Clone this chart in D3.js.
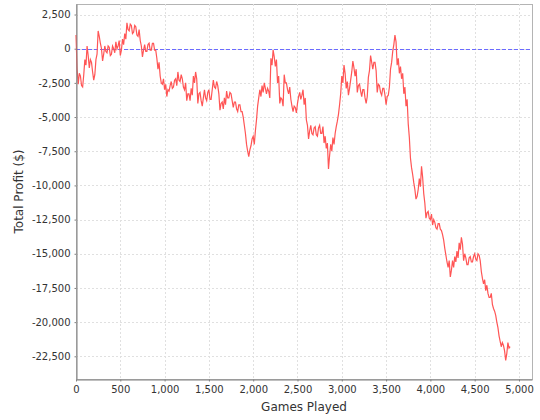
<!DOCTYPE html>
<html>
<head>
<meta charset="utf-8">
<script src="https://cdn.jsdelivr.net/npm/d3@7/dist/d3.min.js"></script>
<style>
  html, body { margin: 0; padding: 0; background: #fff; }
  svg { display: block; font-family: "DejaVu Sans", sans-serif; }
</style>
</head>
<body>
<svg id="chart" width="540" height="420"></svg>
<script>
// ---- data ----
const gameStep = 12.5; // games between recorded samples
const profit = [
  1000, -1500, -2600, -1800, -2000, -2700, -2800, -1900, -800, -1200,
  200, -500, -1400, -800, -1000, -1700, -2300, -1900, -800, -400,
  1300, 900, 400, 0, -900, -400, 200, -200, -300, 200,
  100, -500, -400, 200, 0, -300, 500, 0, 200, 600,
  -500, -100, 700, 300, 1100, 700, 1900, 1400, 1300, 1800,
  1700, 1100, 1200, 1700, 1600, 1000, 900, 1400, 600, 200,
  -600, -100, 300, -200, -200, 300, 400, -100, -100, 400,
  400, -100, -100, -700, -1500, -1000, -2000, -2500, -2600, -2200,
  -3000, -2600, -3500, -3000, -3100, -2700, -2400, -2900, -2800, -2300,
  -2200, -2700, -1700, -2300, -2400, -1900, -2200, -2800, -3000, -2500,
  -3800, -3300, -3300, -3800, -2900, -3400, -2000, -2500, -1700, -2200,
  -4000, -3300, -3200, -3800, -4200, -3600, -3000, -3600, -3800, -3200,
  -3000, -3700, -3700, -3000, -2300, -2800, -2900, -2400, -2700, -3300,
  -4500, -4000, -3900, -4400, -3600, -4100, -3100, -3600, -3600, -3200,
  -3300, -3800, -4300, -3900, -3900, -4400, -4600, -4100, -4100, -4600,
  -4600, -5000, -5600, -6200, -7000, -7500, -7900, -7400, -7100, -6600,
  -6400, -7000, -6000, -5200, -4200, -3600, -3000, -3500, -2700, -3200,
  -2500, -2900, -3300, -2900, -3100, -3600, -700, -1200, -100, -600,
  -1300, -800, -2500, -2000, -4000, -3600, -3700, -4200, -1900, -2500,
  -2500, -3000, -3300, -2800, -3700, -4200, -4600, -4200, -4300, -4700,
  -4000, -3500, -3200, -3700, -3400, -3000, -4100, -3600, -5200, -5600,
  -6600, -6000, -5600, -6200, -6300, -5800, -5700, -6300, -6400, -5800,
  -5600, -6200, -6200, -5700, -6900, -6400, -7300, -6900, -8800, -7800,
  -7000, -7500, -6500, -7000, -6200, -5700, -5300, -4800, -4100, -3300,
  -2000, -2500, -1200, -1800, -2900, -2400, -3400, -2900, -2300, -1700,
  -900, -1400, -2000, -1500, -3200, -2700, -2600, -3100, -3500, -3000,
  -3000, -3600, -4000, -3500, -2100, -1600, -500, -1000, -1500, -1000,
  -1000, -1600, -3200, -2600, -2700, -3200, -3400, -2900, -2900, -3400,
  -4100, -3500, -3400, -2800, -1500, -1000, -200, 300, 1000, 500,
  -1200, -700, -1800, -1300, -2200, -1800, -3300, -2800, -4200, -3700,
  -5500, -6500, -8000, -8700, -9200, -9800, -10300, -11000, -10800, -10300,
  -9500, -10100, -8600, -9400, -10600, -11300, -12400, -12000, -11900, -12400,
  -12500, -12100, -12900, -12500, -12700, -13100, -13200, -12800, -12800, -13200,
  -13300, -13600, -14000, -14600, -15100, -15600, -16000, -15500, -16700, -16200,
  -15500, -16000, -15200, -15600, -14800, -15300, -14200, -14700, -13800, -14300,
  -15500, -15000, -15300, -15800, -15800, -15300, -15200, -15600, -15600, -15200,
  -15000, -15400, -15500, -15000, -15100, -15500, -16300, -16800, -17200, -16900,
  -17700, -17300, -17900, -18200, -18200, -17900, -18700, -19000, -19200, -19500,
  -20000, -20400, -21000, -21400, -21800, -21500, -21700, -22100, -22800, -22300,
  -21500, -21900, -21800
];
const games = profit.map((_, i) => i * gameStep);
const xTicks = [0, 500, 1000, 1500, 2000, 2500, 3000, 3500, 4000, 4500, 5000];
const yTicks = [2500, 0, -2500, -5000, -7500, -10000, -12500, -15000, -17500, -20000, -22500];
const xTitle = "Games Played";
const yTitle = "Total Profit ($)";

// ---- layout ----
const plot = { left: 76, right: 532, top: 4, bottom: 379 };
const svg = d3.select("#chart");

const x = d3.scaleLinear().domain([0, 5147]).range([plot.left, plot.right]);
const y = d3.scaleLinear().domain([-24160, 3270]).range([plot.bottom, plot.top]);

const loc = d3.formatLocale({ decimal: ".", thousands: ",", grouping: [3], currency: ["$", ""], minus: "-" });
const fmt = loc.format(",");

// plot background + outline
svg.append("rect")
  .attr("x", plot.left + 0.5).attr("y", plot.top + 0.5)
  .attr("width", plot.right - plot.left).attr("height", plot.bottom - plot.top)
  .attr("fill", "#fff").attr("stroke", "#b4b4b4").attr("stroke-width", 1)
  .attr("shape-rendering", "crispEdges");

// gridlines
const grid = svg.append("g").attr("stroke", "#e0e0e0").attr("stroke-width", 1)
  .attr("stroke-dasharray", "2,2").attr("shape-rendering", "crispEdges");
grid.selectAll(".gx").data(xTicks.filter(d => d > 0)).join("line")
  .attr("x1", d => Math.round(x(d)) + 0.5).attr("x2", d => Math.round(x(d)) + 0.5)
  .attr("y1", plot.top).attr("y2", plot.bottom);
grid.selectAll(".gy").data(yTicks).join("line")
  .attr("y1", d => Math.round(y(d)) + 0.5).attr("y2", d => Math.round(y(d)) + 0.5)
  .attr("x1", plot.left).attr("x2", plot.right);

// zero baseline
svg.append("line")
  .attr("x1", plot.left).attr("x2", plot.right)
  .attr("y1", Math.round(y(0)) + 0.5).attr("y2", Math.round(y(0)) + 0.5)
  .attr("stroke", "#6b6bff").attr("stroke-width", 1).attr("stroke-dasharray", "4,2")
  .attr("shape-rendering", "crispEdges");

// series
const line = d3.line().x((d, i) => x(games[i])).y(d => y(d));
svg.append("path")
  .datum(profit)
  .attr("d", line)
  .attr("fill", "none")
  .attr("stroke", "#ff5555")
  .attr("stroke-width", 1.2)
  .attr("stroke-linejoin", "miter");

// axes
const xAxis = d3.axisBottom(x).tickValues(xTicks).tickFormat(fmt).tickSizeInner(2).tickSizeOuter(0).tickPadding(4);
const yAxis = d3.axisLeft(y).tickValues(yTicks).tickFormat(fmt).tickSizeInner(2).tickSizeOuter(0).tickPadding(4);

const gx = svg.append("g").attr("transform", `translate(0,${plot.bottom + 0.5})`).call(xAxis);
const gy = svg.append("g").attr("transform", `translate(${plot.left + 0.5},0)`).call(yAxis);
[gx, gy].forEach(g => {
  g.select(".domain").attr("stroke", "#808080");
  g.selectAll(".tick line").attr("stroke", "#808080");
  g.selectAll(".tick text").attr("fill", "#333").attr("font-size", 10)
    .attr("font-family", "DejaVu Sans, sans-serif");
});

// titles
svg.append("text")
  .attr("x", (plot.left + plot.right) / 2).attr("y", 411)
  .attr("text-anchor", "middle").attr("font-size", 12).attr("fill", "#333")
  .text(xTitle);
svg.append("text")
  .attr("transform", `translate(23,${(plot.top + plot.bottom) / 2}) rotate(-90)`)
  .attr("text-anchor", "middle").attr("font-size", 12).attr("fill", "#333")
  .text(yTitle);
</script>
</body>
</html>
